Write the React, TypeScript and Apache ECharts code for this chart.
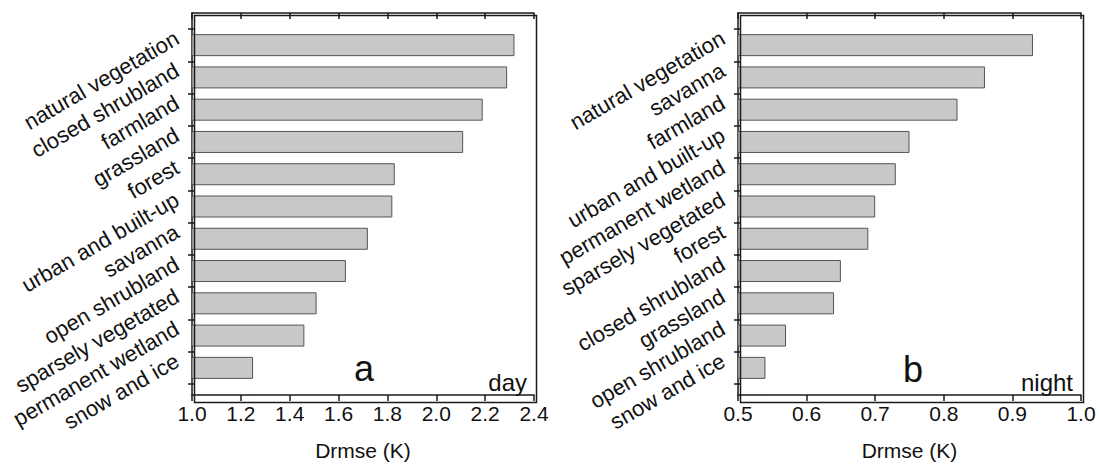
import React, { useEffect, useRef } from "react";
import * as echarts from "echarts";

const dayCategories = [
  "natural vegetation",
  "closed shrubland",
  "farmland",
  "grassland",
  "forest",
  "urban and built-up",
  "savanna",
  "open shrubland",
  "sparsely vegetated",
  "permanent wetland",
  "snow and ice",
];
const dayValues = [2.32, 2.29, 2.19, 2.11, 1.83, 1.82, 1.72, 1.63, 1.51, 1.46, 1.25];

const nightCategories = [
  "natural vegetation",
  "savanna",
  "farmland",
  "urban and built-up",
  "permanent wetland",
  "sparsely vegetated",
  "forest",
  "closed shrubland",
  "grassland",
  "open shrubland",
  "snow and ice",
];
const nightValues = [0.93, 0.86, 0.82, 0.75, 0.73, 0.7, 0.69, 0.65, 0.64, 0.57, 0.54];

const dayAxis = { min: 1.0, max: 2.4, interval: 0.2 };
const nightAxis = { min: 0.5, max: 1.0, interval: 0.1 };
const axisName = "Drmse (K)";

const FONT = "'Liberation Sans', Arial, sans-serif";
const LINE = { color: "#1a1a1a", width: 1.5 };
const TOP = 13;
const HEIGHT = 387;

function panel(
  gi: number,
  left: number,
  width: number,
  cats: string[],
  ax: { min: number; max: number; interval: number }
) {
  const outer = { left, top: TOP, width, height: HEIGHT };
  const inner = { left, top: 29, width, height: 355 };
  const grids = [outer, inner];
  const g0 = gi;
  const g1 = gi + 1;
  const xAxes = [
    {
      gridIndex: g0,
      type: "value",
      position: "bottom",
      min: ax.min,
      max: ax.max,
      interval: ax.interval,
      axisLine: { show: true, onZero: false, lineStyle: LINE },
      axisTick: { show: true, inside: false, length: 6, lineStyle: LINE },
      axisLabel: {
        show: true,
        color: "#111",
        fontFamily: FONT,
        fontSize: 21,
        margin: 8,
        formatter: (v: number) => v.toFixed(1),
      },
      splitLine: { show: false },
      name: axisName,
      nameLocation: "middle",
      nameGap: 45,
      nameTextStyle: { color: "#111", fontFamily: FONT, fontSize: 21 },
    },
    {
      gridIndex: g0,
      type: "value",
      position: "top",
      min: ax.min,
      max: ax.max,
      interval: ax.interval,
      axisLine: { show: true, onZero: false, lineStyle: LINE },
      axisTick: { show: true, inside: true, length: 6, lineStyle: LINE },
      axisLabel: { show: false },
      splitLine: { show: false },
    },
    {
      gridIndex: g1,
      type: "value",
      min: ax.min,
      max: ax.max,
      interval: ax.interval,
      show: false,
    },
  ];
  const yAxes = [
    {
      gridIndex: g0,
      type: "value",
      position: "left",
      min: 0,
      max: 1,
      axisLine: { show: true, onZero: false, lineStyle: LINE },
      axisTick: { show: false },
      axisLabel: { show: false },
      splitLine: { show: false },
    },
    {
      gridIndex: g1,
      type: "category",
      data: cats,
      inverse: true,
      position: "left",
      axisLine: { show: false, onZero: false },
      axisTick: { show: true, inside: false, length: 4, lineStyle: LINE },
      axisLabel: {
        show: true,
        interval: 0,
        rotate: 30,
        color: "#111",
        fontFamily: FONT,
        fontSize: 22,
        lineHeight: 20,
        margin: 10,
        verticalAlign: "bottom",
      },
      splitLine: { show: false },
    },
    {
      gridIndex: g1,
      type: "category",
      data: cats,
      inverse: true,
      position: "left",
      axisLine: { show: false, onZero: false },
      axisTick: { show: true, inside: true, length: 3, lineStyle: LINE },
      axisLabel: { show: false },
      splitLine: { show: false },
    },
  ];
  const frame = {
    type: "rect",
    left,
    top: TOP,
    shape: { x: 0, y: 0, width, height: HEIGHT },
    style: { fill: "none", stroke: LINE.color, lineWidth: LINE.width },
    z: 100,
    silent: true,
  };
  return { grids, xAxes, yAxes, frame };
}

export default function App() {
  const ref = useRef<HTMLDivElement>(null);
  useEffect(() => {
    if (!ref.current) return;
    const chart = echarts.init(ref.current, undefined, { renderer: "svg" });
    const a = panel(0, 192, 342, dayCategories, dayAxis);
    const b = panel(2, 738, 343, nightCategories, nightAxis);
    const barStyle = {
      color: "#c8c8c8",
      borderColor: "#555555",
      borderWidth: 1,
    };
    chart.setOption({
      animation: false,
      backgroundColor: "#ffffff",
      grid: [...a.grids, ...b.grids],
      xAxis: [...a.xAxes, ...b.xAxes],
      yAxis: [...a.yAxes, ...b.yAxes],
      series: [
        {
          type: "bar",
          xAxisIndex: 2,
          yAxisIndex: 1,
          data: dayValues,
          barWidth: 22,
          itemStyle: barStyle,
        },
        {
          type: "bar",
          xAxisIndex: 5,
          yAxisIndex: 4,
          data: nightValues,
          barWidth: 22,
          itemStyle: barStyle,
        },
      ],
      graphic: [
        a.frame,
        b.frame,
        {
          type: "text",
          left: 354,
          top: 350,
          style: { text: "a", font: `36px ${FONT}`, fill: "#111" },
        },
        {
          type: "text",
          right: 1099 - 527,
          top: 370,
          style: { text: "day", font: `24px ${FONT}`, fill: "#111" },
        },
        {
          type: "text",
          left: 903,
          top: 351,
          style: { text: "b", font: `36px ${FONT}`, fill: "#111" },
        },
        {
          type: "text",
          right: 1099 - 1073,
          top: 370,
          style: { text: "night", font: `24px ${FONT}`, fill: "#111" },
        },
      ],
    });
    return () => chart.dispose();
  }, []);
  return (
    <div
      ref={ref}
      style={{ position: "fixed", left: 0, top: 0, width: 1099, height: 466 }}
    />
  );
}
